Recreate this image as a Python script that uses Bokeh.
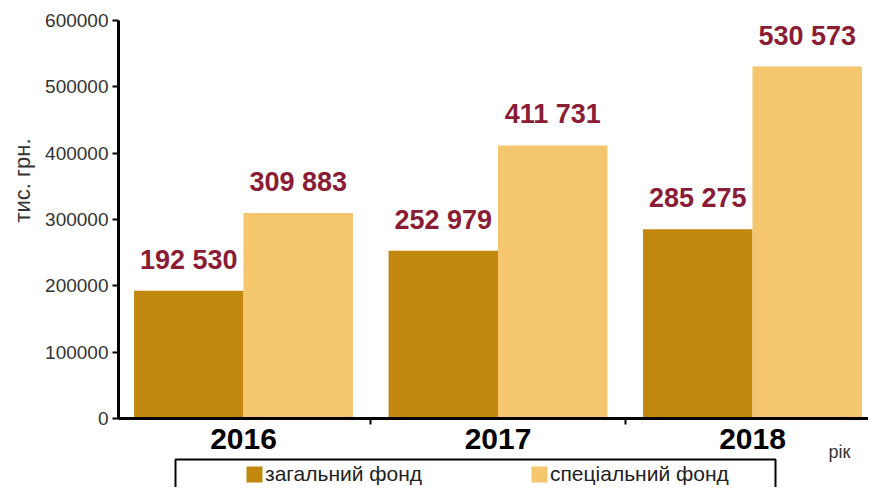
import numpy as np
from bokeh.plotting import figure
from bokeh.models import (ColumnDataSource, FixedTicker, Legend, LegendItem, Label,
                          Range1d, BoxAnnotation)
from bokeh.core.properties import value
from bokeh.embed import file_html
from bokeh.resources import INLINE

years = ["2016", "2017", "2018"]
general_fund = [192530, 252979, 285275]
special_fund = [309883, 411731, 530573]
general_labels = ["192 530", "252 979", "285 275"]
special_labels = ["309 883", "411 731", "530 573"]
y_ticks = [0, 100000, 200000, 300000, 400000, 500000, 600000]

DARK = "#C1870E"
LIGHT = "#F4C76E"
LABEL_COLOR = "#8A1C35"

W, H = 868, 487
# pixel geometry (figure coords): category 0 centre, px per category, y=0 row, px per value
X0_PX, X_STEP = 243.0, 254.5
Y0_PX, Y_SCALE = 418.0, 600000 / 398.0


def xd(px):
    return (px - X0_PX) / X_STEP


def yd(py):
    return (Y0_PX - py) * Y_SCALE


x = np.arange(len(years))
w = 0.43
src_g = ColumnDataSource(dict(x=x - w / 2, top=general_fund, lab=general_labels))
src_s = ColumnDataSource(dict(x=x + w / 2, top=special_fund, lab=special_labels))

p = figure(width=W, height=H, output_backend="svg", toolbar_location=None,
           x_range=Range1d(xd(0), xd(W)), y_range=Range1d(yd(H), yd(0)),
           min_border=0)
p.outline_line_color = None
p.xgrid.visible = False
p.ygrid.visible = False
p.background_fill_color = "white"
p.border_fill_color = "white"

rg = p.vbar(x="x", top="top", width=w, source=src_g, color=DARK, line_color=None)
rs = p.vbar(x="x", top="top", width=w, source=src_s, color=LIGHT, line_color=None)

for s in (src_g, src_s):
    p.text(x="x", y="top", text="lab", source=s, text_align="center", text_baseline="bottom",
           y_offset=-16, text_font=value("Liberation Sans"), text_font_style="bold",
           text_font_size="27px", text_color=LABEL_COLOR)

# axes placed inside the frame
p.yaxis.fixed_location = xd(118)
p.yaxis.bounds = (0, 600000)
p.yaxis.ticker = FixedTicker(ticks=y_ticks)
p.yaxis.formatter.use_scientific = False
p.yaxis.major_label_text_font = "Liberation Sans"
p.yaxis.major_label_text_font_size = "19px"
p.yaxis.major_label_text_color = "#333333"
p.yaxis.axis_line_width = 3
p.yaxis.axis_line_color = "black"
p.yaxis.major_tick_line_width = 2
p.yaxis.major_tick_out = 6
p.yaxis.major_tick_in = 0
p.yaxis.minor_tick_line_color = None
p.yaxis.major_label_standoff = 4

p.xaxis.fixed_location = 0
p.xaxis.bounds = (xd(118), xd(W))
p.xaxis.ticker = FixedTicker(ticks=[0, 1, 2], minor_ticks=[0.5, 1.5])
p.xaxis.major_label_overrides = {0: years[0], 1: years[1], 2: years[2]}
p.xaxis.major_label_text_font = "Liberation Sans"
p.xaxis.major_label_text_font_style = "bold"
p.xaxis.major_label_text_font_size = "30px"
p.xaxis.major_label_text_color = "black"
p.xaxis.axis_line_width = 3
p.xaxis.axis_line_color = "black"
p.xaxis.major_tick_line_color = None
p.xaxis.minor_tick_line_width = 2
p.xaxis.minor_tick_out = 6
p.xaxis.minor_tick_in = 0
p.xaxis.major_label_standoff = 4

p.add_layout(Label(x=xd(22), y=yd(180), text="тис. грн.", angle=np.pi / 2,
                   text_align="center", text_baseline="middle",
                   text_font="Liberation Sans", text_font_size="22px", text_color="#333333"))
p.add_layout(Label(x=xd(839), y=yd(451), text="рік", text_align="center", text_baseline="middle",
                   text_font="Liberation Sans", text_font_size="18px", text_color="#333333"))

p.add_layout(BoxAnnotation(left=xd(175), right=xd(775), top=yd(459), bottom=yd(H + 10),
                           fill_color="white", fill_alpha=1, line_color="black",
                           line_alpha=1, line_width=2))

legend = Legend(items=[LegendItem(label="загальний фонд", renderers=[rg]),
                       LegendItem(label="спеціальний фонд", renderers=[rs])],
                orientation="horizontal", location=(244, 1),
                border_line_color=None, background_fill_alpha=0,
                label_text_font="Liberation Sans", label_text_font_size="21px",
                label_text_color="#222222", glyph_width=20, glyph_height=20,
                padding=4, spacing=92, label_width=172, label_standoff=1)
p.add_layout(legend)

open("out.html", "w").write(file_html(p, INLINE))
